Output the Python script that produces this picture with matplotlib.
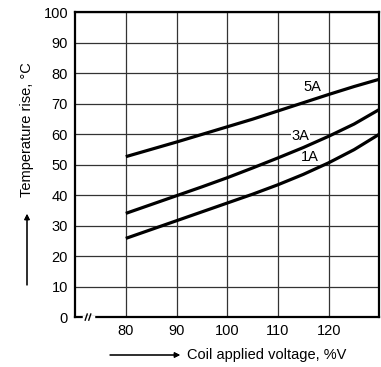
import matplotlib
matplotlib.use('Agg')
from matplotlib import pyplot as plt

# values
voltage = [80, 85, 90, 95, 100, 105, 110, 115, 120, 125, 130]
rise_5a = [52.6, 55.0, 57.4, 59.9, 62.4, 64.9, 67.6, 70.3, 73.0, 75.6, 78.0]
rise_3a = [34.0, 36.9, 39.8, 42.7, 45.7, 48.9, 52.2, 55.6, 59.3, 63.3, 68.1]
rise_1a = [25.8, 28.7, 31.6, 34.5, 37.4, 40.3, 43.4, 46.8, 50.6, 54.9, 60.0]

series = [('5A', rise_5a), ('3A', rise_3a), ('1A', rise_1a)]
label_pos = {'5A': (116.7, 75.3), '3A': (114.4, 59.3), '1A': (116.3, 52.6)}

x_ticks = [80, 90, 100, 110, 120]
y_ticks = list(range(0, 101, 10))

plt.rcParams['font.family'] = ['Liberation Sans', 'DejaVu Sans']

fig = plt.figure(figsize=(3.81, 3.67), dpi=100)
ax = fig.add_axes([0.197, 0.136, 0.799, 0.831])

for name, vals in series:
    ax.plot(voltage, vals, color='black', lw=2.3, zorder=3, solid_capstyle='butt')
    tx, ty = label_pos[name]
    ax.text(tx, ty, name, fontsize=10.5, ha='center', va='center', zorder=2.5,
            bbox=dict(fc='white', ec='none', pad=0.6))

ax.set_xlim(70, 130)
ax.set_ylim(0, 100)
ax.set_xticks(x_ticks)
ax.set_yticks(y_ticks)
ax.tick_params(length=0, labelsize=10.5, pad=5)
ax.grid(True, color='#333333', lw=0.9, zorder=1)
ax.set_axisbelow(True)
for s in ax.spines.values():
    s.set_linewidth(1.6)

# axis break mark on the x axis
ax.plot([71.7, 73.5], [0, 0], color='white', lw=2.5, clip_on=False, zorder=3.5)
for dx in (0, 0.7):
    ax.plot([72.0 + dx, 72.4 + dx], [-1.0, 1.0], color='black', lw=1.0,
            clip_on=False, zorder=4)

# axis titles with arrows
fig.text(187 / 381, 1 - 355 / 367, 'Coil applied voltage, %V', fontsize=10.5,
         ha='left', va='center')
fig.add_artist(plt.annotate('', xy=(180 / 381, 1 - 355 / 367), xytext=(110 / 381, 1 - 355 / 367),
                            xycoords='figure fraction',
                            arrowprops=dict(arrowstyle='-|>', lw=0.8, color='black',
                                            mutation_scale=8, shrinkA=0, shrinkB=0)))
fig.text(27 / 381, 1 - 130 / 367, 'Temperature rise, °C', fontsize=10.5,
         rotation=90, ha='center', va='center')
fig.add_artist(plt.annotate('', xy=(27 / 381, 1 - 214 / 367), xytext=(27 / 381, 1 - 285 / 367),
                            xycoords='figure fraction',
                            arrowprops=dict(arrowstyle='-|>', lw=0.8, color='black',
                                            mutation_scale=8, shrinkA=0, shrinkB=0)))

plt.savefig('out.png', dpi=100)
